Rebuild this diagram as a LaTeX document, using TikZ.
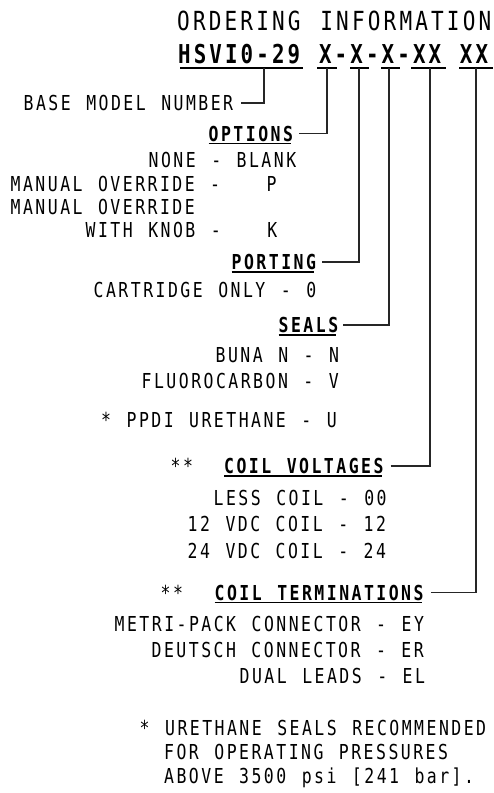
\documentclass[tikz,border=0pt]{standalone}
\usepackage{fontspec}
\newfontfamily\cad[FakeStretch=0.8,LetterSpace=12,WordSpace=1.25]{DejaVu Sans Mono}
\tikzset{
  txt/.style={inner sep=0pt, anchor=base west, text=black, font=\cad\fontsize{20.6}{24}\selectfont},
  hd/.style={txt, font=\cad\bfseries\fontsize{20.6}{24}\selectfont},
  big/.style={inner sep=0pt, anchor=base west, text=black, font=\cad\fontsize{26}{30}\selectfont},
  bigb/.style={big, font=\cad\bfseries\fontsize{26}{30}\selectfont},
  conn/.style={line width=1.1pt, draw=black!85},
  ul/.style={line width=1.5pt, draw=black},
}
\begin{document}
\begin{tikzpicture}[x=1pt,y=-1pt]
\useasboundingbox (0,0) rectangle (493,793);
% title
\node[big, font=\cad\fontsize{26.3}{30}\selectfont] (title) at (177,30) {ORDERING INFORMATION};
% model line
\node[bigb] (hsv) at (178,63) {HSVI0-29};
\node[bigb] (xa) at (318.9,63) {X};
\node[bigb] (d1) at (334.5,63) {-};
\node[bigb] (xb) at (350.2,63) {X};
\node[bigb] (d2) at (365.8,63) {-};
\node[bigb] (xc) at (381.5,63) {X};
\node[bigb] (d3) at (397.1,63) {-};
\node[bigb] (xd) at (412.8,63) {XX};
\node[bigb] (xe) at (459.7,63) {XX};
\draw[ul] (180,68) -- (303,68);
\draw[ul] (317,68) -- (337,68);
\draw[ul] (350,68) -- (369,68);
\draw[ul] (381,68) -- (400,68);
\draw[ul] (411,68) -- (446,68);
\draw[ul] (459,68) -- (493,68);
\coordinate (t0) at (264,68);
\coordinate (ta) at (327,68);
\coordinate (tb) at (359,68);
\coordinate (tc) at (389,68);
\coordinate (td) at (430,68);
\coordinate (te) at (476,68);
% base model
\node[txt] (base) at (23.5,110.5) {BASE MODEL NUMBER};
% options
\node[hd] (opt) at (208.5,141) {OPTIONS};
\node[txt] (o1) at (148.5,167) {NONE - BLANK};
\node[txt] (o2) at (10.5,191.5) {MANUAL OVERRIDE -\ \ \ P};
\node[txt] (o3) at (10.5,214.5) {MANUAL OVERRIDE};
\node[txt] (o4) at (85.5,237.5) {WITH KNOB -\ \ \ K};
% porting
\node[hd] (port) at (231.5,269.5) {PORTING};
\node[txt] (p1) at (93.5,297) {CARTRIDGE ONLY - 0};
% seals
\node[hd] (seal) at (278.5,332.5) {SEALS};
\node[txt] (s1) at (215.5,362) {BUNA N - N};
\node[txt] (s2) at (141.5,388) {FLUOROCARBON - V};
\node[txt] (s3) at (101,427) {* PPDI URETHANE - U};
% coil voltages
\node[txt] (vst) at (170.5,473.5) {**};
\node[hd] (volt) at (224,473.5) {COIL VOLTAGES};
\node[txt] (v1) at (213.5,505) {LESS COIL - 00};
\node[txt] (v2) at (187.5,531.5) {12 VDC COIL - 12};
\node[txt] (v3) at (187.5,558) {24 VDC COIL - 24};
% coil terminations
\node[txt] (tst) at (160.5,600) {**};
\node[hd] (term) at (214.5,600) {COIL TERMINATIONS};
\node[txt] (t1) at (114.5,631) {METRI-PACK CONNECTOR - EY};
\node[txt] (t2) at (151.5,657) {DEUTSCH CONNECTOR - ER};
\node[txt] (t3) at (239.5,683) {DUAL LEADS - EL};
% note
\node[txt] (n1) at (139.5,735) {* URETHANE SEALS RECOMMENDED};
\node[txt] (n2) at (164,759) {FOR OPERATING PRESSURES};
\node[txt] (n3) at (164,783) {ABOVE 3500 psi [241 bar].};
% heading underlines
\foreach \n in {opt,port,seal,volt,term}
  \draw[line width=1.4pt] ([yshift=-2.5pt]\n.base west) -- ([yshift=-2.5pt,xshift=-2pt]\n.base east);
% connectors
\draw[conn] (base.east) ++(8,0) -| (t0);
\draw[conn] (opt.east) ++(6,0) -| (ta);
\draw[conn] (port.east) ++(6,0) -| (tb);
\draw[conn] (seal.east) ++(5,0) -| (tc);
\draw[conn] (volt.east) ++(7,0) -| (td);
\draw[conn] (term.east) ++(7,0) -| (te);
\end{tikzpicture}
\end{document}
